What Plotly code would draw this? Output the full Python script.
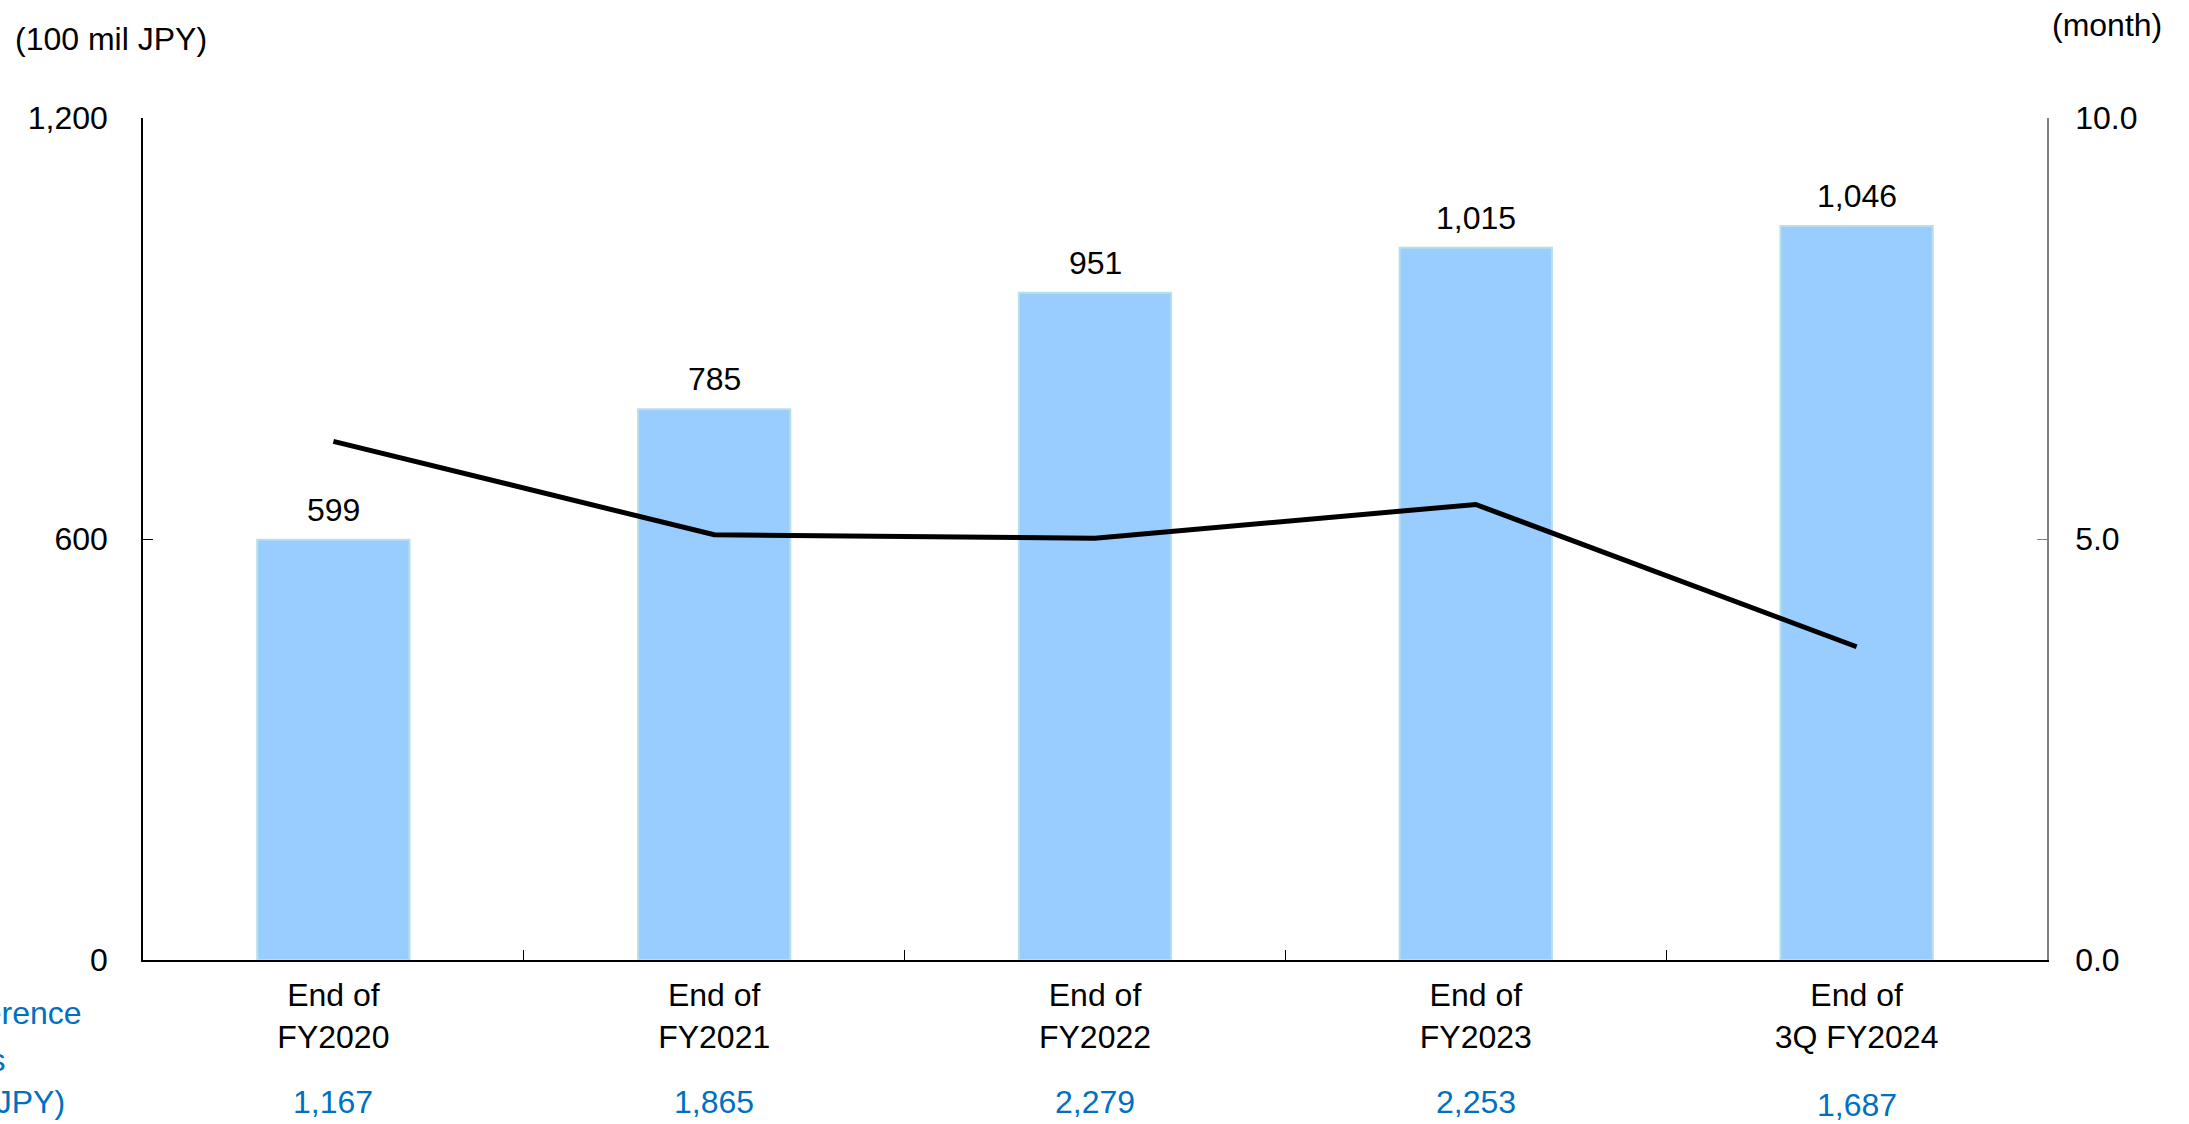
import plotly.graph_objects as go

# Year-end balances (100 mil JPY), months of coverage, and reference net sales
categories = ["End of<br>FY2020", "End of<br>FY2021", "End of<br>FY2022",
              "End of<br>FY2023", "End of<br>3Q FY2024"]
balance = [599, 785, 951, 1015, 1046]
balance_labels = ["599", "785", "951", "1,015", "1,046"]
months = [6.16, 5.05, 5.01, 5.41, 3.72]
net_sales_labels = ["1,167", "1,865", "2,279", "2,253", "1,687"]

W, H = 2189, 1124
L, R, T, B = 143, 142, 118, 164
PW, PH = W - L - R, H - T - B

FONT = "Liberation Sans, Arial, sans-serif"
FS = 32
BLUE = "#0070C0"


def px_x(px):
    return (px - L) / PW


def px_y(py):
    return (H - B - py) / PH


fig = go.Figure()

fig.add_trace(go.Bar(
    x=categories, y=balance, width=0.4,
    marker=dict(color="#99CCFF", line=dict(color="#B8E0E8", width=2)),
    hoverinfo="skip", showlegend=False,
))

fig.add_trace(go.Scatter(
    x=categories, y=months, yaxis="y2", mode="lines",
    line=dict(color="#000000", width=5),
    hoverinfo="skip", showlegend=False,
))

annotations = []
# values above each bar
for c, v, t in zip(categories, balance, balance_labels):
    annotations.append(dict(
        x=c, y=v, xref="x", yref="y", text=t, showarrow=False,
        yanchor="bottom", yshift=10, font=dict(family=FONT, size=FS, color="#000000"),
    ))

# reference net sales row under the category labels
for i, (c, t) in enumerate(zip(categories, net_sales_labels)):
    py = 1105 if i == len(categories) - 1 else 1102
    annotations.append(dict(
        x=c, y=px_y(py), xref="x", yref="paper", text=t, showarrow=False,
        yanchor="middle", font=dict(family=FONT, size=FS, color=BLUE),
    ))

# row header for the net sales row
for txt, rx, py in [("Reference", 84, 1013), ("Net sales", 7, 1060), ("(100 mil JPY)", 67, 1102)]:
    annotations.append(dict(
        x=px_x(rx), y=px_y(py), xref="paper", yref="paper", text=txt, showarrow=False,
        xanchor="right", yanchor="middle", font=dict(family=FONT, size=FS, color=BLUE),
    ))

# axis unit captions
annotations.append(dict(
    x=px_x(13), y=px_y(39), xref="paper", yref="paper", text="(100 mil JPY)",
    showarrow=False, xanchor="left", yanchor="middle",
    font=dict(family=FONT, size=FS, color="#000000"),
))
annotations.append(dict(
    x=px_x(2164), y=px_y(25), xref="paper", yref="paper", text="(month)",
    showarrow=False, xanchor="right", yanchor="middle",
    font=dict(family=FONT, size=FS, color="#000000"),
))

fig.update_layout(
    width=W, height=H,
    margin=dict(l=L, r=R, t=T, b=B, pad=0),
    paper_bgcolor="#FFFFFF", plot_bgcolor="#FFFFFF",
    font=dict(family=FONT, size=FS, color="#000000"),
    xaxis=dict(
        type="category", showgrid=False, zeroline=False,
        showline=True, linecolor="#000000", linewidth=1.5,
        ticks="inside", ticklen=10, tickcolor="#000000", tickwidth=1,
        tickson="boundaries",
        tickfont=dict(family=FONT, size=FS, color="#000000"),
        ticklabelstandoff=6,
    ),
    yaxis=dict(
        range=[0, 1200], tickvals=[0, 600, 1200], ticktext=["0", "600", "1,200"],
        showgrid=False, zeroline=False,
        showline=True, linecolor="#000000", linewidth=1.5,
        ticks="inside", ticklen=10, tickcolor="#000000", tickwidth=1,
        tickfont=dict(family=FONT, size=FS, color="#000000"),
        ticklabelstandoff=27,
    ),
    yaxis2=dict(
        range=[0, 10], tickvals=[0, 5, 10], ticktext=["0.0", "5.0", "10.0"],
        overlaying="y", side="right", showgrid=False, zeroline=False,
        showline=True, linecolor="#808080", linewidth=1.5,
        ticks="inside", ticklen=10, tickcolor="#808080", tickwidth=1,
        tickfont=dict(family=FONT, size=FS, color="#000000"),
        ticklabelstandoff=20,
    ),
    annotations=annotations,
)

fig.write_html("out.html")
